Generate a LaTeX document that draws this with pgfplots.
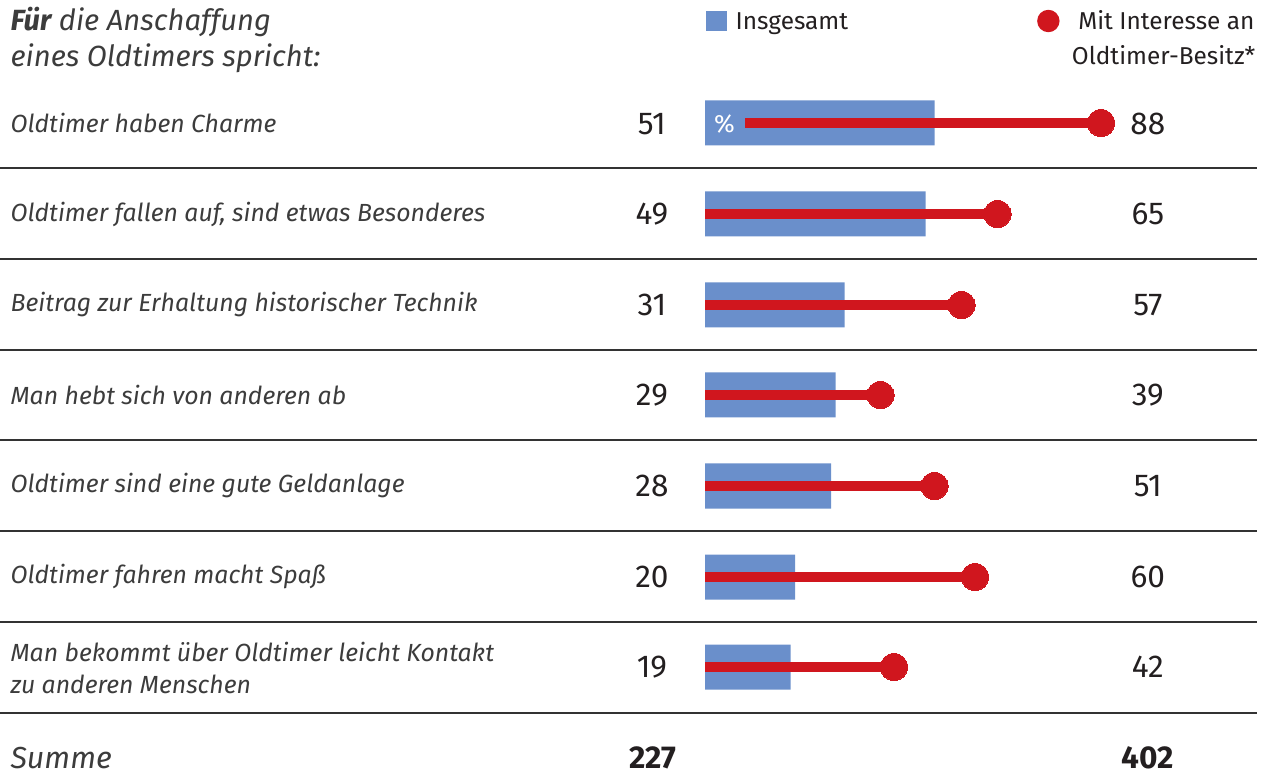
\documentclass[border=0pt]{standalone}
\usepackage{pgfplots}
\pgfplotsset{compat=1.18}
\usepackage{fontspec}
\setmainfont{Fira Sans}
\definecolor{barblue}{RGB}{106,143,203}
\definecolor{dotred}{RGB}{208,22,30}
\definecolor{txt}{RGB}{35,31,32}
\definecolor{lbl}{RGB}{60,60,60}
\begin{document}
\begin{tikzpicture}
\begin{axis}[
  scale only axis, width=632.5pt, height=387.5pt,
  xmin=-156.667, xmax=124.444, ymin=0, ymax=775, y dir=reverse,
  axis lines=none, ticks=none, clip=false,
]
% separators
\addplot[draw=black!80, line width=0.8pt] coordinates {(-156.667,168) (122.667,168)};
\addplot[draw=black!80, line width=0.8pt] coordinates {(-156.667,259) (122.667,259)};
\addplot[draw=black!80, line width=0.8pt] coordinates {(-156.667,350) (122.667,350)};
\addplot[draw=black!80, line width=0.8pt] coordinates {(-156.667,440) (122.667,440)};
\addplot[draw=black!80, line width=0.8pt] coordinates {(-156.667,531) (122.667,531)};
\addplot[draw=black!80, line width=0.8pt] coordinates {(-156.667,622) (122.667,622)};
\addplot[draw=black!80, line width=0.8pt] coordinates {(-156.667,713) (122.667,713)};
% bars: Insgesamt
\addplot[xbar, bar width=45, fill=barblue, draw=none] coordinates {
  (51,123) (49,214) (31,305) (29,395) (28,486) (20,577) (19,667)};
% lines: Mit Interesse
\addplot[dotred, line width=5pt] coordinates {(8.9,123) (88,123)};
\addplot[dotred, line width=5pt] coordinates {(0,214) (65,214)};
\addplot[dotred, line width=5pt] coordinates {(0,305) (57,305)};
\addplot[dotred, line width=5pt] coordinates {(0,395) (39,395)};
\addplot[dotred, line width=5pt] coordinates {(0,486) (51,486)};
\addplot[dotred, line width=5pt] coordinates {(0,577) (60,577)};
\addplot[dotred, line width=5pt] coordinates {(0,667) (42,667)};
\addplot[only marks, mark=*, mark size=6.8pt, mark options={fill=dotred, draw=dotred, line width=0pt}] coordinates {
  (88,123) (65,214) (57,305) (39,395) (51,486) (60,577) (42,667)};
\begin{scope}[every node/.style={inner sep=0pt}]
% title
\node[anchor=base west, text=lbl, font=\fontsize{14.6pt}{16pt}\selectfont\itshape] at (axis cs:-154.4,31) {\textbf{Für} die Anschaffung};
\node[anchor=base west, text=lbl, font=\fontsize{14.6pt}{16pt}\selectfont\itshape] at (axis cs:-154.4,67) {eines Oldtimers spricht:};
% legend
\fill[barblue] (axis cs:0.2,11) rectangle (axis cs:4.9,31);
\node[anchor=base west, text=txt, font=\fontsize{12.2pt}{14pt}\selectfont] at (axis cs:6.7,30) {Insgesamt};
\fill[dotred] (axis cs:76.3,21) circle[radius=5.6pt];
\node[anchor=base east, text=txt, font=\fontsize{12.2pt}{14pt}\selectfont] at (axis cs:122.2,30) {Mit Interesse an};
\node[anchor=base east, text=txt, font=\fontsize{12.2pt}{14pt}\selectfont] at (axis cs:122.4,65) {Oldtimer-Besitz*};
% % sign
\node[text=white, font=\fontsize{12.5pt}{14pt}\selectfont] at (axis cs:4.3,124) {\%};
% row labels
\begin{scope}[every node/.style={inner sep=0pt, anchor=west, text=lbl, font=\fontsize{12.4pt}{14pt}\selectfont\itshape}]
\node at (axis cs:-154.4,123) {Oldtimer haben Charme};
\node at (axis cs:-154.4,214) {Oldtimer fallen auf, sind etwas Besonderes};
\node at (axis cs:-154.4,305) {Beitrag zur Erhaltung historischer Technik};
\node at (axis cs:-154.4,395) {Man hebt sich von anderen ab};
\node at (axis cs:-154.4,486) {Oldtimer sind eine gute Geldanlage};
\node at (axis cs:-154.4,577) {Oldtimer fahren macht Spaß};
\node at (axis cs:-154.4,652) {Man bekommt über Oldtimer leicht Kontakt};
\node at (axis cs:-154.4,684) {zu anderen Menschen};
\end{scope}
\node[anchor=base west, text=lbl, font=\fontsize{15.2pt}{17pt}\selectfont\itshape] at (axis cs:-154.4,768) {Summe};
% values
\begin{scope}[every node/.style={inner sep=0pt, text=txt, font=\fontsize{15.8pt}{17pt}\selectfont}]
\node at (axis cs:-11.8,124) {51};
\node at (axis cs:-11.8,214) {49};
\node at (axis cs:-11.8,305) {31};
\node at (axis cs:-11.8,395) {29};
\node at (axis cs:-11.8,486) {28};
\node at (axis cs:-11.8,577) {20};
\node at (axis cs:-11.8,667) {19};
\node at (axis cs:98.4,124) {88};
\node at (axis cs:98.4,214) {65};
\node at (axis cs:98.4,305) {57};
\node at (axis cs:98.4,395) {39};
\node at (axis cs:98.4,486) {51};
\node at (axis cs:98.4,577) {60};
\node at (axis cs:98.4,667) {42};
\node[anchor=base, font=\fontsize{15.8pt}{17pt}\selectfont\bfseries] at (axis cs:-11.6,768) {227};
\node[anchor=base, font=\fontsize{15.8pt}{17pt}\selectfont\bfseries] at (axis cs:98.4,768) {402};
\end{scope}
\end{scope}
\end{axis}
\pgfresetboundingbox
\path[use as bounding box] (current axis.south west) rectangle (current axis.north east);
\end{tikzpicture}
\end{document}
